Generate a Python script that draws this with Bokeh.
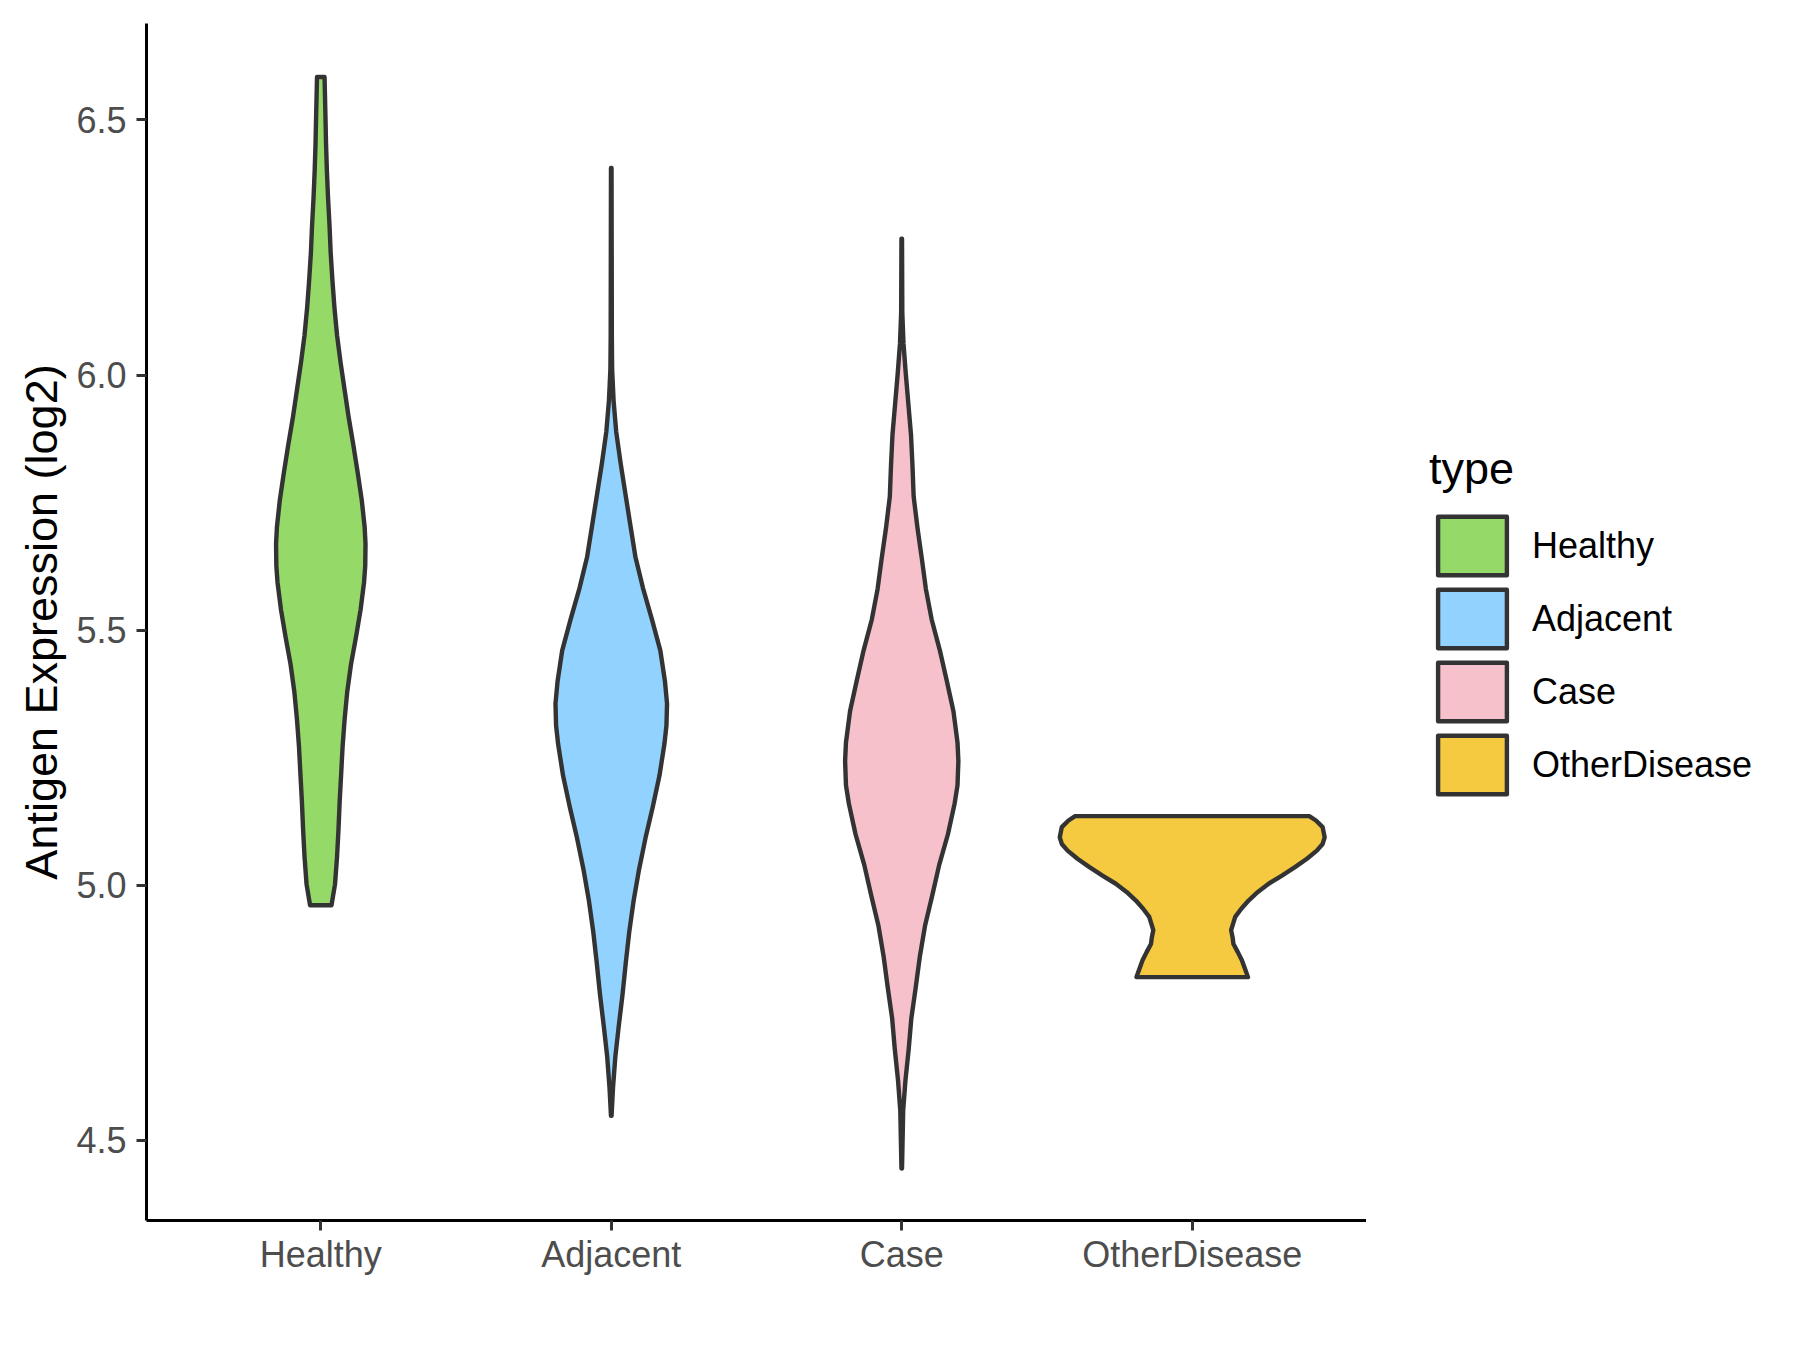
import numpy as np
from bokeh.plotting import figure
from bokeh.layouts import row
from bokeh.models import Range1d, FixedTicker, NumeralTickFormatter, Legend, LegendItem
from bokeh.embed import file_html
from bokeh.resources import INLINE

categories = ["Healthy", "Adjacent", "Case", "OtherDisease"]
fill_colors = ["#95DA69", "#92D2FE", "#F7C1CC", "#F5C940"]
y_ticks = [4.5, 5.0, 5.5, 6.0, 6.5]

# violin outlines: expression values (log2) and half-widths (in category units)
healthy_y = [4.961, 5.002, 5.056, 5.110, 5.164, 5.217, 5.271, 5.325, 5.379, 5.433, 5.486,
             5.540, 5.594, 5.626, 5.669, 5.702, 5.755, 5.809, 5.863, 5.917, 5.971, 6.025,
             6.078, 6.132, 6.186, 6.240, 6.294, 6.347, 6.401, 6.455, 6.509, 6.584]
healthy_hw = [0.037, 0.049, 0.056, 0.061, 0.065, 0.070, 0.075, 0.082, 0.091, 0.104, 0.121,
              0.137, 0.149, 0.153, 0.154, 0.151, 0.141, 0.127, 0.112, 0.096, 0.082, 0.068,
              0.056, 0.047, 0.040, 0.034, 0.030, 0.025, 0.021, 0.018, 0.016, 0.013]

adjacent_y = [4.548, 4.603, 4.664, 4.725, 4.787, 4.848, 4.909, 4.970, 5.032, 5.093, 5.154,
              5.215, 5.277, 5.313, 5.356, 5.399, 5.460, 5.521, 5.583, 5.644, 5.705, 5.766,
              5.828, 5.889, 5.950, 6.011, 6.073, 6.406]
adjacent_hw = [0.001, 0.006, 0.014, 0.026, 0.039, 0.050, 0.062, 0.077, 0.096, 0.118, 0.143,
               0.166, 0.183, 0.190, 0.192, 0.185, 0.169, 0.140, 0.109, 0.083, 0.066, 0.049,
               0.032, 0.017, 0.008, 0.003, 0.002, 0.001]

case_y = [4.445, 4.559, 4.619, 4.679, 4.739, 4.799, 4.859, 4.920, 4.980, 5.040, 5.100,
          5.160, 5.196, 5.244, 5.280, 5.341, 5.401, 5.461, 5.521, 5.581, 5.641, 5.701,
          5.762, 5.822, 5.882, 5.942, 6.002, 6.062, 6.122, 6.267]
case_hw = [0.001, 0.005, 0.013, 0.024, 0.033, 0.048, 0.062, 0.080, 0.105, 0.129, 0.159,
           0.182, 0.192, 0.195, 0.192, 0.178, 0.155, 0.131, 0.103, 0.083, 0.069, 0.054,
           0.041, 0.037, 0.032, 0.023, 0.014, 0.006, 0.002, 0.001]

other_y = [4.820, 4.836, 4.853, 4.869, 4.885, 4.898, 4.912, 4.938, 4.954, 4.970, 4.987,
           5.003, 5.019, 5.036, 5.052, 5.068, 5.081, 5.094, 5.114, 5.127, 5.1355]
other_hw = [0.192, 0.182, 0.171, 0.157, 0.142, 0.139, 0.134, 0.148, 0.169, 0.194, 0.226,
            0.263, 0.309, 0.355, 0.395, 0.429, 0.449, 0.456, 0.449, 0.426, 0.403]

violins = [(healthy_y, healthy_hw), (adjacent_y, adjacent_hw),
           (case_y, case_hw), (other_y, other_hw)]

FONT = "Liberation Sans"
OUTLINE = "#333333"
LW = 4.4
H = 1300

p = figure(width=1366, height=H, output_backend="svg", toolbar_location=None,
           x_range=Range1d(0.4, 4.6), y_range=Range1d(4.343, 6.689),
           min_border_left=146, min_border_right=0, min_border_top=23,
           min_border_bottom=H - 23 - 1197)
p.outline_line_color = None
p.grid.visible = False

# legend panel (its patches reuse the violin data but sit outside its visible range)
lg = figure(width=414, height=H, output_backend="svg", toolbar_location=None,
            x_axis_type=None, y_axis_type=None, min_border=0,
            x_range=Range1d(100, 101), y_range=Range1d(100, 101))
lg.outline_line_color = None
lg.grid.visible = False

items = []
for i, (cat, (ys, hws)) in enumerate(zip(categories, violins)):
    center = i + 1
    ys = np.asarray(ys, dtype=float)
    hws = np.asarray(hws, dtype=float)
    xs = np.concatenate([center - hws, (center + hws)[::-1]])
    yy = np.concatenate([ys, ys[::-1]])
    style = dict(fill_color=fill_colors[i], line_color=OUTLINE,
                 line_width=LW, line_join="round")
    p.patch(xs, yy, **style)
    r = lg.patch(xs, yy, **style)
    items.append(LegendItem(label=cat, renderers=[r]))

# axes
for ax in (p.xaxis[0], p.yaxis[0]):
    ax.axis_line_color = "black"
    ax.axis_line_width = 3
    ax.major_tick_line_color = "#333333"
    ax.major_tick_line_width = 3
    ax.major_tick_in = 0
    ax.major_tick_out = 10
    ax.minor_tick_line_color = None
    ax.major_label_text_font = FONT
    ax.major_label_text_font_size = "36px"
    ax.major_label_text_color = "#4D4D4D"

p.xaxis.ticker = FixedTicker(ticks=[1, 2, 3, 4])
p.xaxis.major_label_overrides = {1: categories[0], 2: categories[1],
                                 3: categories[2], 4: categories[3]}
p.xaxis.major_label_standoff = 3

p.yaxis.ticker = FixedTicker(ticks=y_ticks)
p.yaxis.formatter = NumeralTickFormatter(format="0.0")
p.yaxis.major_label_standoff = 10
p.yaxis.axis_label = "Antigen Expression (log2)"
p.yaxis.axis_label_text_font = FONT
p.yaxis.axis_label_text_font_size = "45px"
p.yaxis.axis_label_text_font_style = "normal"
p.yaxis.axis_label_text_color = "black"
p.yaxis.axis_label_standoff = 6

legend = Legend(items=items, location=(63, 419), title="type",
                title_text_font=FONT, title_text_font_size="45px",
                title_text_font_style="normal", title_text_color="black",
                title_standoff=14,
                label_text_font=FONT, label_text_font_size="36px",
                label_text_color="black",
                glyph_width=86, glyph_height=73, spacing=0, label_standoff=17,
                padding=0, margin=0, border_line_color=None,
                background_fill_alpha=0)
lg.add_layout(legend)

layout = row(p, lg, spacing=0)
open("out.html", "w").write(file_html(layout, INLINE))
